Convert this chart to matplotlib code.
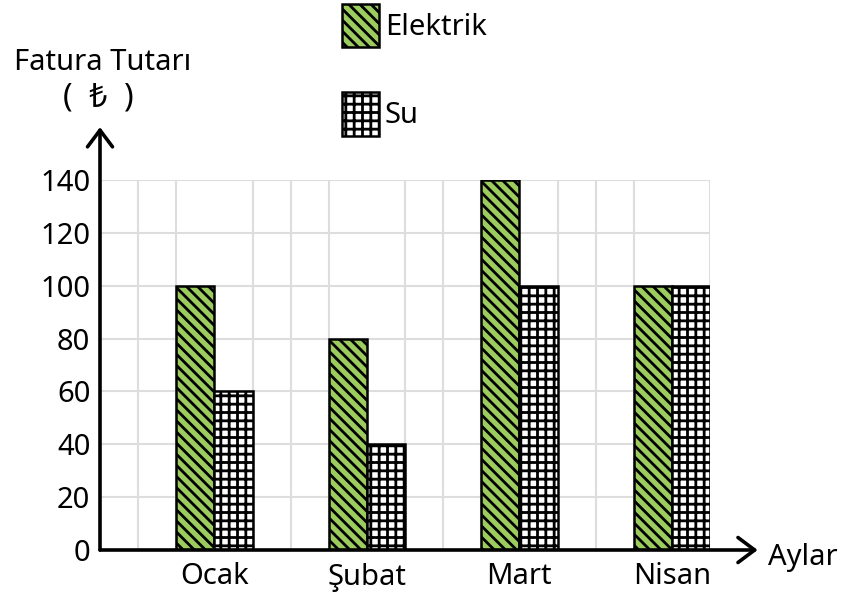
import numpy as np
import matplotlib.pyplot as plt

# veriler
aylar = ['Ocak', 'Şubat', 'Mart', 'Nisan']
elektrik = [100, 80, 140, 100]
su = [60, 40, 100, 100]
y_ticks = [0, 20, 40, 60, 80, 100, 120, 140]

plt.rcParams['font.family'] = ['Noto Sans', 'DejaVu Sans']
plt.rcParams['font.size'] = 21
plt.rcParams['hatch.linewidth'] = 2.0

fig = plt.figure(figsize=(8.5, 5.96), dpi=100)
ax = fig.add_axes([100 / 850, 46 / 596, 610 / 850, 370 / 596])

x = np.arange(len(aylar)) * 4 + 3
ax.bar(x - 0.5, elektrik, width=1, color='#9ccc5e', edgecolor='black',
       hatch='\\\\\\', linewidth=1.8, label='Elektrik', zorder=3)
ax.bar(x + 0.5, su, width=1, color='white', edgecolor='black',
       hatch='++', linewidth=1.8, label='Su', zorder=3)

ax.set_xlim(0, 16)
ax.set_ylim(0, 140)
ax.set_xticks(x)
ax.set_xticklabels(aylar)
ax.set_xticks(np.arange(17), minor=True)
ax.set_yticks(y_ticks)
ax.tick_params(which='both', length=0)
ax.tick_params(axis='y', pad=7)
ax.tick_params(axis='x', pad=9)
ax.grid(which='minor', axis='x', color='#dddddd', linewidth=1.5)
ax.grid(which='major', axis='y', color='#dddddd', linewidth=1.5)
ax.set_axisbelow(True)
for s in ax.spines.values():
    s.set_visible(False)

# eksen okları
arrow = dict(arrowstyle='->,head_length=0.6,head_width=0.45', lw=2.6,
             color='black', shrinkA=0, shrinkB=0, mutation_scale=20)
ax.annotate('', xy=(0, 160), xytext=(0, 0), arrowprops=arrow, annotation_clip=False)
ax.annotate('', xy=(17.25, 0), xytext=(0, 0), arrowprops=arrow, annotation_clip=False)

fig.text(103 / 850, 1 - 62 / 596, 'Fatura Tutarı', ha='center', va='center')
fig.text(98 / 850, 1 - 98 / 596, '(  ₺  )', ha='center', va='center',
         fontsize=23)
fig.text(768 / 850, 1 - 557 / 596, 'Aylar', ha='left', va='center')

ax.legend(loc='upper left', bbox_to_anchor=(342 / 850, 1 - 4 / 596),
          bbox_transform=fig.transFigure, frameon=False, handlelength=1.27,
          handleheight=1.9, handletextpad=0.2, labelspacing=1.55,
          borderpad=0, borderaxespad=0)

plt.savefig('out.png')
